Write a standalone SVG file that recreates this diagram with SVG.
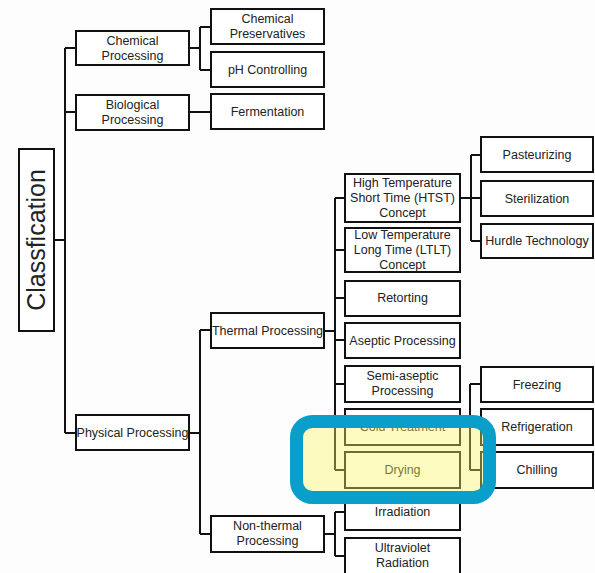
<svg xmlns="http://www.w3.org/2000/svg" width="595" height="573" viewBox="0 0 595 573">
<style>
.b{fill:#fff;stroke:#111;stroke-width:2}
.t{font-family:"Liberation Sans",Arial,sans-serif;font-size:12.5px;fill:#222;text-anchor:middle}
.c{fill:none;stroke:#111;stroke-width:2}
</style>
<rect width="595" height="573" fill="#fdfdfd"/>
<g id="connectors">
<path class="c" d="M54 240H65M65 48V433M65 48H76M65 112H76M65 433H76"/>
<path class="c" d="M189 48H200M200 27V70M200 27H211M200 70H211"/>
<path class="c" d="M189 112H211"/>
<path class="c" d="M189 433H200M200 330V534M200 330H211M200 534H211"/>
<path class="c" d="M324 331H335M335 198V470M335 198H345M335 250H345M335 298H345M335 340H345M335 384H345M335 427H345M335 470H345"/>
<path class="c" d="M324 534H335M335 512V556M335 512H345M335 556H345"/>
<path class="c" d="M460 198H481M471 155V241M471 155H481M471 241H481"/>
<path class="c" d="M460 427H481M470 384V470M470 384H481M470 470H481"/>
</g>
<g id="classification"><rect class="b" x="19" y="149" width="35" height="182"/><text transform="translate(45 240) rotate(-90)" style="font-family:'Liberation Sans',Arial,sans-serif;font-size:25px;fill:#222;text-anchor:middle">Classfication</text></g>
<g id="chemical-processing"><rect class="b" x="76" y="31" width="113" height="34"/><text class="t" x="132.5" y="45">Chemical</text><text class="t" x="132.5" y="60">Processing</text></g>
<g id="biological-processing"><rect class="b" x="76" y="95" width="113" height="35"/><text class="t" x="132.5" y="109">Biological</text><text class="t" x="132.5" y="124">Processing</text></g>
<g id="physical-processing"><rect class="b" x="76" y="415" width="113" height="35"/><text class="t" x="132.5" y="437">Physical Processing</text></g>
<g id="chemical-preservatives"><rect class="b" x="211" y="9" width="113" height="35"/><text class="t" x="267.5" y="23">Chemical</text><text class="t" x="267.5" y="38">Preservatives</text></g>
<g id="ph-controlling"><rect class="b" x="211" y="52" width="113" height="35"/><text class="t" x="267.5" y="74">pH Controlling</text></g>
<g id="fermentation"><rect class="b" x="211" y="94" width="113" height="35"/><text class="t" x="267.5" y="116">Fermentation</text></g>
<g id="thermal-processing"><rect class="b" x="211" y="313" width="113" height="35"/><text class="t" x="267.5" y="335">Thermal Processing</text></g>
<g id="non-thermal-processing"><rect class="b" x="211" y="516" width="113" height="36"/><text class="t" x="267.5" y="530">Non-thermal</text><text class="t" x="267.5" y="545">Processing</text></g>
<g id="htst"><rect class="b" x="345" y="174" width="115" height="48"/><text class="t" x="402.5" y="187">High Temperature</text><text class="t" x="402.5" y="202">Short Time (HTST)</text><text class="t" x="402.5" y="217">Concept</text></g>
<g id="ltlt"><rect class="b" x="345" y="228" width="115" height="44"/><text class="t" x="402.5" y="239">Low Temperature</text><text class="t" x="402.5" y="254">Long Time (LTLT)</text><text class="t" x="402.5" y="269">Concept</text></g>
<g id="retorting"><rect class="b" x="345" y="281" width="115" height="35"/><text class="t" x="402.5" y="302">Retorting</text></g>
<g id="aseptic"><rect class="b" x="345" y="323" width="115" height="35"/><text class="t" x="402.5" y="345">Aseptic Processing</text></g>
<g id="semi-aseptic"><rect class="b" x="345" y="366" width="115" height="36"/><text class="t" x="402.5" y="380">Semi-aseptic</text><text class="t" x="402.5" y="395">Processing</text></g>
<g id="cold-treatment"><rect class="b" x="345" y="409" width="115" height="36"/><text class="t" x="402.5" y="431">Cold Treatment</text></g>
<g id="drying"><rect class="b" x="345" y="452" width="115" height="36"/><text class="t" x="402.5" y="474">Drying</text></g>
<g id="irradiation"><rect class="b" x="345" y="494" width="115" height="36"/><text class="t" x="402.5" y="516">Irradiation</text></g>
<g id="ultraviolet"><rect class="b" x="345" y="538" width="115" height="37"/><text class="t" x="402.5" y="552">Ultraviolet</text><text class="t" x="402.5" y="567">Radiation</text></g>
<g id="pasteurizing"><rect class="b" x="481" y="137" width="112" height="35"/><text class="t" x="537" y="159">Pasteurizing</text></g>
<g id="sterilization"><rect class="b" x="481" y="181" width="112" height="35"/><text class="t" x="537" y="203">Sterilization</text></g>
<g id="hurdle"><rect class="b" x="481" y="224" width="112" height="34"/><text class="t" x="537" y="245">Hurdle Technology</text></g>
<g id="freezing"><rect class="b" x="481" y="367" width="112" height="35"/><text class="t" x="537" y="389">Freezing</text></g>
<g id="refrigeration"><rect class="b" x="481" y="409" width="112" height="36"/><text class="t" x="537" y="431">Refrigeration</text></g>
<g id="chilling"><rect class="b" x="481" y="452" width="112" height="36"/><text class="t" x="537" y="474">Chilling</text></g>
<g id="highlight"><rect x="296.5" y="421.5" width="193" height="76" rx="16" fill="#fdf661" fill-opacity="0.4" stroke="#0a9fca" stroke-width="13"/></g>
</svg>
